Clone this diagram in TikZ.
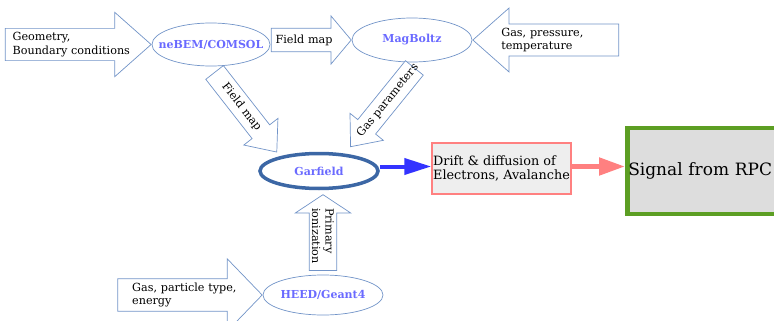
\documentclass[tikz,border=0pt]{standalone}
\usepackage{fontspec}
\setmainfont{DejaVu Serif}
\usetikzlibrary{shapes.geometric,shapes.arrows,arrows.meta,positioning}

\definecolor{arrowline}{HTML}{7294C8}
\definecolor{toolblue}{HTML}{6A6AFF}
\definecolor{garfline}{HTML}{3C67A5}
\definecolor{flowblue}{HTML}{3333FF}
\definecolor{driftline}{HTML}{FF8080}
\definecolor{driftfill}{HTML}{EEEEEE}
\definecolor{sigline}{HTML}{5C9E23}
\definecolor{sigfill}{HTML}{DDDDDD}

\begin{document}
\begin{tikzpicture}[x=1pt,y=-1pt,
		tool/.style={ellipse,draw=arrowline,line width=0.7pt,text=toolblue,inner xsep=-15pt,inner ysep=0pt,font=\fontsize{11}{13}\selectfont\bfseries},
		blockarrow/.style={single arrow,draw=arrowline,line width=0.7pt,fill=white,align=left,font=\fontsize{11.2}{13.5}\selectfont},
	]
	\useasboundingbox (0,0) rectangle (774,321);
	% tools
	\node[tool,minimum width=118pt,minimum height=43pt] (nebem) at (211,44.5) {neBEM/COMSOL};
	\node[tool,minimum width=120pt,minimum height=44pt] (magboltz) at (412,40) {MagBoltz};
	\node[tool,draw=garfline,line width=3.5pt,minimum width=118pt,minimum height=35pt] (garfield) at (319,171) {Garfield};
	\node[tool,minimum width=120pt,minimum height=40pt] (heed) at (323,295) {HEED/Geant4};
	% inputs
	\node[blockarrow,anchor=tip,text width=113pt,inner xsep=7pt,inner ysep=3.6pt,single arrow head extend=16pt,single arrow tip angle=83] (geomin) at (nebem.west) {Geometry,\\\mbox{Boundary conditions}};
	\node[blockarrow,anchor=tip,text width=61.5pt,inner xsep=4pt,inner ysep=5.9pt,single arrow head extend=12.5pt,single arrow tip angle=100] (fieldright) at (magboltz.west) {\mbox{Field map}};
	\node[blockarrow,anchor=tip,shape border rotate=180,text width=107pt,inner xsep=10pt,inner ysep=3.6pt,single arrow head extend=16pt,single arrow tip angle=83] (gasin) at (magboltz.east) {\mbox{Gas, pressure,}\\temperature};
	\node[blockarrow,anchor=tip,rotate=-52,text width=67pt,align=center,inner xsep=10pt,inner ysep=5.4pt,single arrow head extend=10.5pt,single arrow tip angle=80] (fieldmapdown) at ([shift={(-2pt,4pt)}]garfield.160) {\mbox{Field map}};
	\node[blockarrow,anchor=tip,rotate=51,shape border rotate=180,text width=87pt,align=center,inner xsep=0pt,inner ysep=5.8pt,single arrow head extend=10pt,single arrow tip angle=80] (gasparam) at ([shift={(2pt,7pt)}]garfield.30) {\mbox{Gas parameters}};
	\node[blockarrow,anchor=tip,rotate=-90,shape border rotate=180,text width=58pt,inner xsep=4pt,inner ysep=2.4pt,single arrow head extend=14pt,single arrow tip angle=113] (primary) at ([shift={(4pt,-4pt)}]garfield.south) {Primary\\ionization};
	\node[blockarrow,anchor=tip,text width=100pt,inner xsep=14pt,inner ysep=3.6pt,single arrow head extend=20pt,single arrow tip angle=92] (gaspart) at (heed.west) {\mbox{Gas, particle type,}\\energy};
	% output chain
	\node[draw=driftline,line width=1.5pt,fill=driftfill,minimum width=139pt,minimum height=51pt,inner xsep=1pt,align=left,font=\fontsize{12.8}{14.5}\selectfont] (drift) at (501.5,168.5) {Drift \& diffusion of\\Electrons, Avalanche};
	\node[draw=sigline,line width=4.5pt,fill=sigfill,anchor=west,minimum height=86pt,text width=160pt,inner xsep=1pt,align=left,font=\fontsize{17}{20}\selectfont] (signal) at (625,171) {Signal from RPC};
	\draw[line width=4pt,flowblue,-{Triangle[length=27pt,width=16pt]}] ([yshift=2pt]drift.west -| garfield.east) -- ([yshift=2pt]drift.west);
	\draw[line width=5pt,driftline,-{Triangle[length=26pt,width=17pt]}] ([yshift=2pt]drift.east) -- ([yshift=2pt]drift.east -| signal.west);
\end{tikzpicture}
\end{document}
